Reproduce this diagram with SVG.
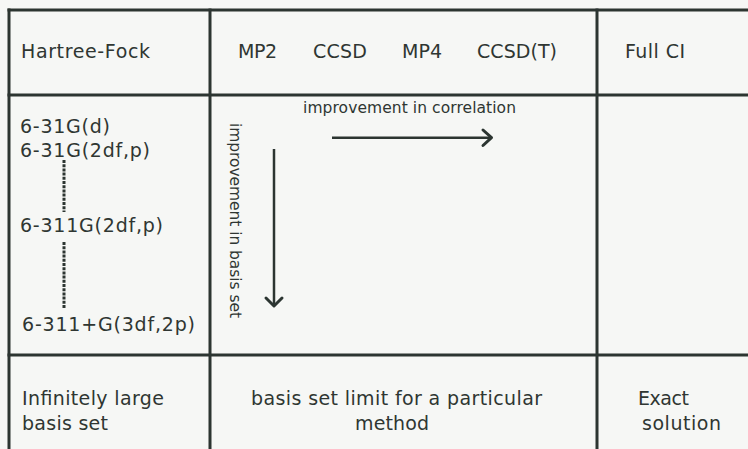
<svg xmlns="http://www.w3.org/2000/svg" width="748" height="449" viewBox="0 0 748 449">
<defs>
<style>
.grid{stroke:#2c3531;stroke-width:3;fill:none;stroke-linecap:square}
.t{font-family:"DejaVu Sans","Liberation Sans",sans-serif;font-size:19px;fill:#2f3632}
.s{font-family:"DejaVu Sans","Liberation Sans",sans-serif;font-size:15.5px;fill:#2f3632}
.arr{stroke:#2c3531;stroke-width:2.5;fill:none}
.head{stroke:#2c3531;stroke-width:3;fill:none;stroke-linecap:round;stroke-linejoin:round}
.dash{stroke:#2c3531;stroke-width:3;fill:none;stroke-dasharray:3 1.2}
</style>
</defs>
<rect width="748" height="449" fill="#f6f7f5"/>
<g id="grid">
<line class="grid" x1="9" y1="10" x2="750" y2="10"/>
<line class="grid" x1="9" y1="95" x2="750" y2="95"/>
<line class="grid" x1="9" y1="355" x2="750" y2="355"/>
<line class="grid" x1="9" y1="10" x2="9" y2="452"/>
<line class="grid" x1="210" y1="10" x2="210" y2="452"/>
<line class="grid" x1="597" y1="10" x2="597" y2="452"/>
</g>
<g id="hf-header"><text class="t" x="21" y="58" textLength="129" lengthAdjust="spacing">Hartree-Fock</text></g>
<g id="methods-header">
<text class="t" x="238" y="58" textLength="39" lengthAdjust="spacing">MP2</text>
<text class="t" x="313" y="58" textLength="54" lengthAdjust="spacing">CCSD</text>
<text class="t" x="402" y="58" textLength="40" lengthAdjust="spacing">MP4</text>
<text class="t" x="477" y="58" textLength="80" lengthAdjust="spacing">CCSD(T)</text>
</g>
<g id="fullci-header"><text class="t" x="625" y="58" textLength="60" lengthAdjust="spacing">Full CI</text></g>
<g id="basis-sets">
<text class="t" x="20" y="133" textLength="90" lengthAdjust="spacing">6-31G(d)</text>
<text class="t" x="20" y="157" textLength="130" lengthAdjust="spacing">6-31G(2df,p)</text>
<text class="t" x="20" y="232" textLength="143" lengthAdjust="spacing">6-311G(2df,p)</text>
<text class="t" x="22" y="331" textLength="173" lengthAdjust="spacing">6-311+G(3df,2p)</text>
</g>
<g id="middle-cell">
<text class="s" x="303" y="113" textLength="213" lengthAdjust="spacing">improvement in correlation</text>
<text class="s" transform="translate(229.5,123) rotate(90)" x="0" y="0" textLength="195" lengthAdjust="spacing">improvement in basis set</text>
</g>
<g id="hf-limit">
<text class="t" x="22" y="405" textLength="142" lengthAdjust="spacing">Infinitely large</text>
<text class="t" x="22" y="430" textLength="86" lengthAdjust="spacing">basis set</text>
</g>
<g id="method-limit">
<text class="t" x="251" y="405" textLength="291" lengthAdjust="spacing">basis set limit for a particular</text>
<text class="t" x="355" y="430" textLength="74" lengthAdjust="spacing">method</text>
</g>
<g id="exact">
<text class="t" x="638" y="405" textLength="51" lengthAdjust="spacing">Exact</text>
<text class="t" x="642" y="430" textLength="79" lengthAdjust="spacing">solution</text>
</g>
<g id="connectors">
<line class="dash" x1="64" y1="160" x2="64" y2="212"/>
<line class="dash" x1="64" y1="242" x2="64" y2="308"/>
<line class="arr" x1="332" y1="137.7" x2="491" y2="137.7"/>
<polyline class="head" points="483,130 491.5,137.7 483,145.5"/>
<line class="arr" x1="274" y1="149" x2="274" y2="305"/>
<polyline class="head" points="266,298 274,306 282,298"/>
</g>
</svg>
